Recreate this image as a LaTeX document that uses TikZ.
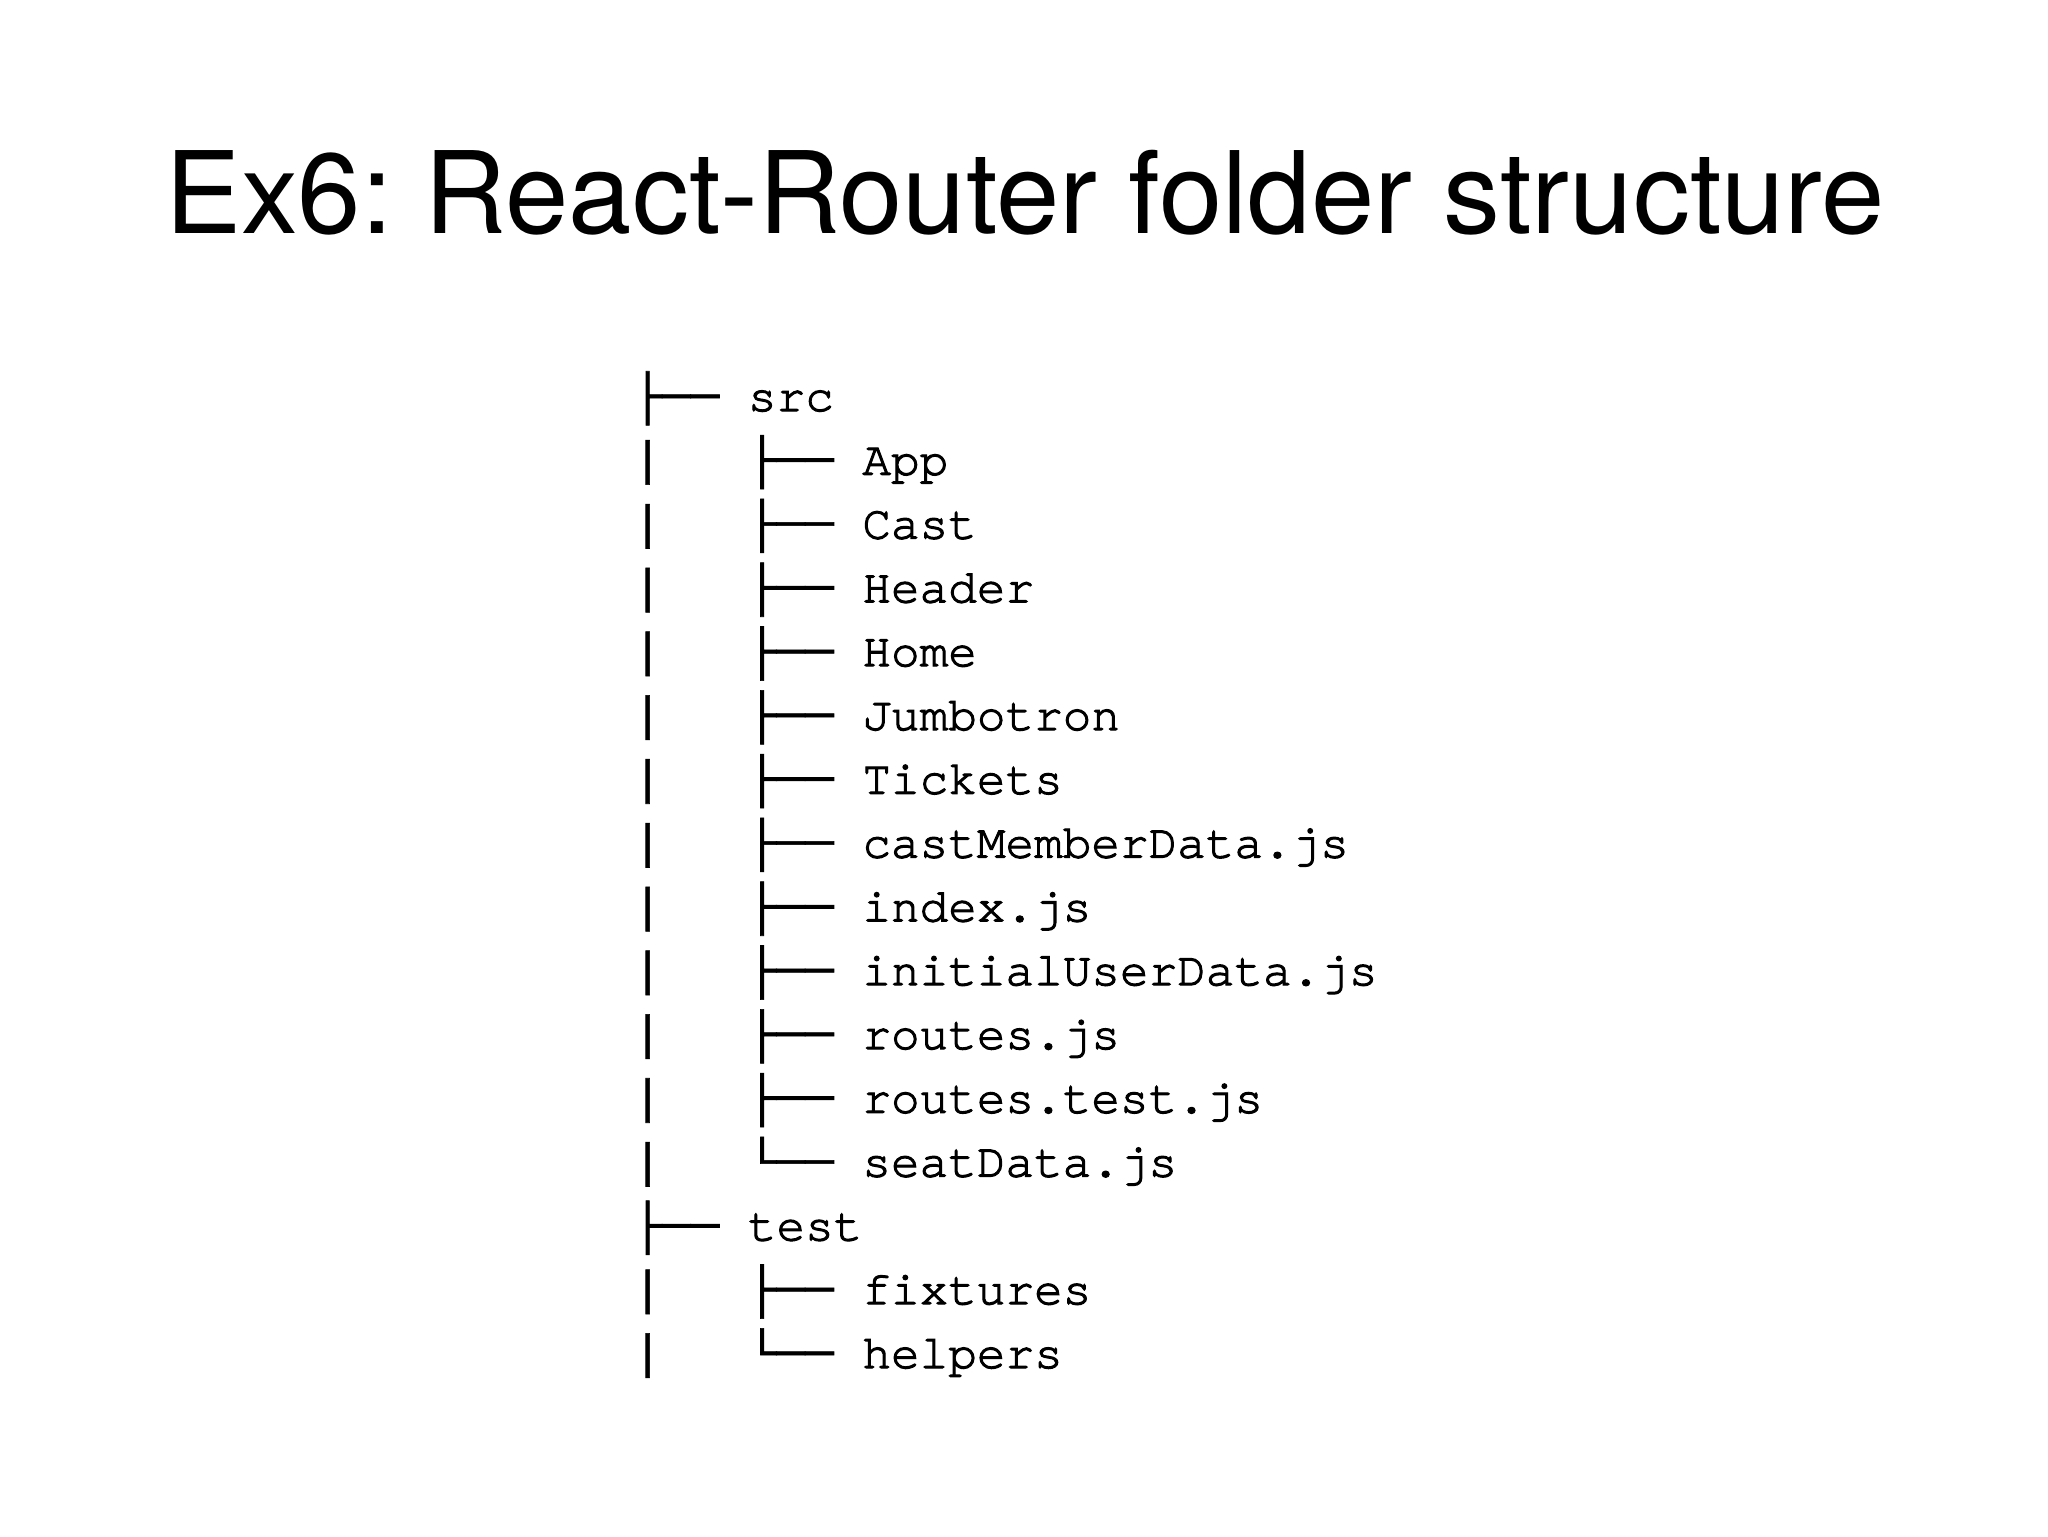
\documentclass[tikz,border=0pt]{standalone}
\usepackage{fontspec}
\usepackage{tikz}
\setmainfont{TeX Gyre Heros}
\newfontfamily\treemono[FakeBold=1.2]{Liberation Mono}
\newfontfamily\namemono[Ligatures=NoCommon, FakeBold=2.2]{TeX Gyre Cursor}
\newcommand{\fname}[1]{{\namemono #1}}

\begin{document}
\frenchspacing
\begin{tikzpicture}[x=0.5pt, y=-0.5pt,
  slidetitle/.style={font=\fontsize{56.9}{60}\selectfont, anchor=base, inner sep=0pt},
  treerow/.style={font=\treemono\fontsize{23.85}{28}\selectfont, anchor=base west, inner sep=0pt}]

  %% Slide frame
  \useasboundingbox[fill=white] (0,0) rectangle (2048,1536);

  %% Title
  \node[slidetitle] (title) at (1025,233) {Ex6: React-Router folder structure};

  %% Top-level folders
  \node[treerow] (src)  at (633,411) {├──~\fname{src}};
  \node[treerow] (test) at (633,411+13*63.8) {├──~\fname{test}};

  %% Contents of src
  \foreach \name/\entry [count=\i] in {app/├──~\fname{App}, cast/├──~\fname{Cast},
      header/├──~\fname{Header}, home/├──~\fname{Home}, jumbo/├──~\fname{Jumbotron},
      tickets/├──~\fname{Tickets}, castdata/├──~\fname{castMemberData.js},
      index/├──~\fname{index.js}, userdata/├──~\fname{initialUserData.js},
      routes/├──~\fname{routes.js}, routestest/├──~\fname{routes.test.js},
      seatdata/└──~\fname{seatData.js}}
    \node[treerow] (\name) at (633,411+\i*63.8) {|~~~\entry};

  %% Contents of test
  \node[treerow] (fixtures) at (633,411+14*63.8) {|~~~├──~\fname{fixtures}};
  \node[treerow] (helpers)  at (633,411+15*63.8) {|~~~└──~\fname{helpers}};

\end{tikzpicture}
\end{document}
